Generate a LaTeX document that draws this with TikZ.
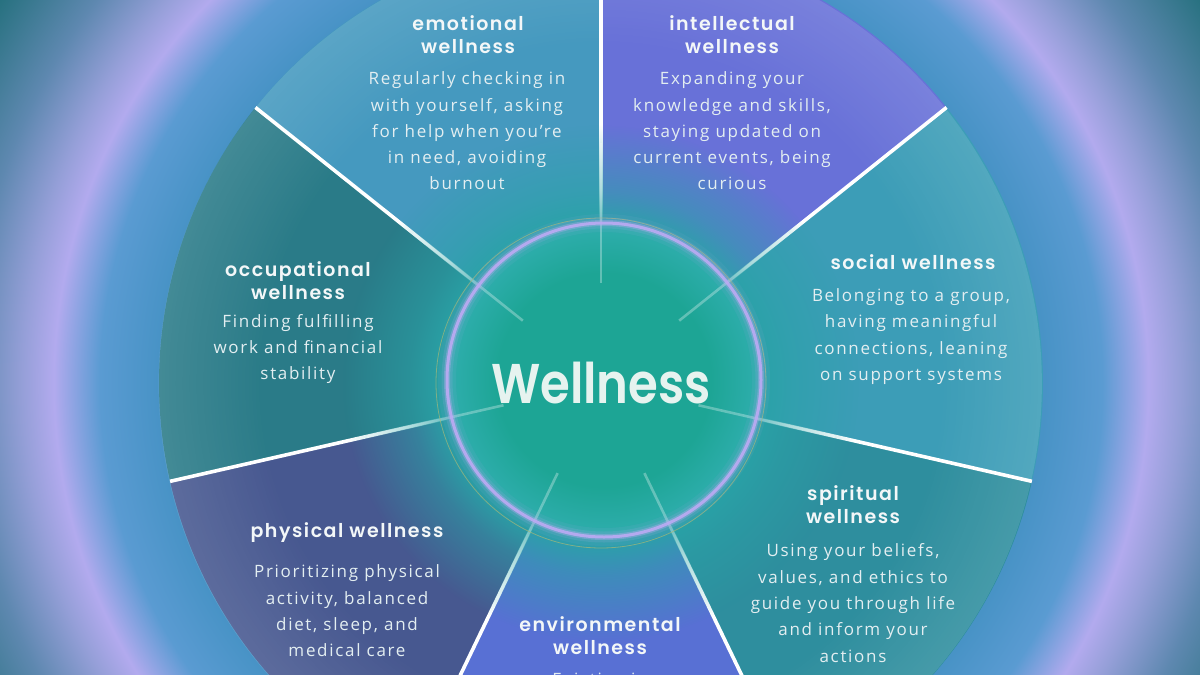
\documentclass[tikz,border=0pt]{standalone}
\usepackage{fontspec}
\usepackage{graphicx}
\usetikzlibrary{fadings}
\newfontfamily\headfont{Poppins SemiBold}[LetterSpace=8]
\newfontfamily\titlefont{Poppins SemiBold}
\newfontfamily\bodyfont{Open Sans}[LetterSpace=10]

\definecolor{bgblue}{HTML}{4893C6}
\definecolor{bgblueb}{HTML}{5A9BD2}
\definecolor{lav}{HTML}{B2AAEE}
\definecolor{lavb}{HTML}{959FD8}
\definecolor{bgmid}{HTML}{5E88B0}
\definecolor{bgcorner}{HTML}{226F7B}
\definecolor{intel}{HTML}{6871D8}
\definecolor{emo}{HTML}{4599BF}
\definecolor{occu}{HTML}{2A7B88}
\definecolor{phys}{HTML}{475890}
\definecolor{envi}{HTML}{5870D4}
\definecolor{spir}{HTML}{2E8E9E}
\definecolor{soci}{HTML}{3C9DB7}
\definecolor{halo}{HTML}{29A3A7}
\definecolor{core}{HTML}{1DA595}
\definecolor{corerim}{HTML}{2FAEAE}
\definecolor{ringcol}{HTML}{BCAAF3}
\definecolor{olivering}{HTML}{A3B77A}
\definecolor{headcol}{HTML}{F3F7F8}
\definecolor{bodycol}{HTML}{E3EEF1}
\definecolor{titlecol}{HTML}{E6F3EF}

\pgfdeclareradialshading{bgshade}{\pgfpointorigin}{%
  color(0bp)=(bgblue); color(15.4bp)=(bgblue); color(17.4bp)=(bgblueb);
  color(19bp)=(lav); color(20.1bp)=(lavb); color(22bp)=(bgmid);
  color(25bp)=(bgcorner); color(50bp)=(bgcorner)}
\pgfdeclareradialshading{coresh}{\pgfpointorigin}{%
  color(0bp)=(core); color(17bp)=(core); color(25bp)=(corerim); color(50bp)=(corerim)}
\pgfdeclareradialshading{glowsh}{\pgfpointorigin}{%
  color(0bp)=(pgftransparent!0); color(15bp)=(pgftransparent!0);
  color(18.5bp)=(pgftransparent!45); color(25bp)=(pgftransparent!100);
  color(50bp)=(pgftransparent!100)}
\pgfdeclarefading{glowfade}{\pgfuseshading{glowsh}}
\pgfdeclareradialshading{rimsh}{\pgfpointorigin}{%
  color(0bp)=(pgftransparent!100); color(19bp)=(pgftransparent!100);
  color(25bp)=(pgftransparent!88); color(50bp)=(pgftransparent!88)}
\pgfdeclarefading{rimfade}{\pgfuseshading{rimsh}}

\begin{document}
\begin{tikzpicture}[x=1pt,y=-1pt,
  head/.style={font=\headfont\fontsize{19}{23}\selectfont, text=headcol, align=center, inner sep=0pt},
  body/.style={font=\bodyfont\fontsize{17}{26.3}\selectfont, text=bodycol, align=center, inner sep=0pt},
  divider/.style={draw=white, line width=3.6pt},
  faintdiv/.style={draw=white, line width=2.6pt, opacity=0.3}]
\useasboundingbox (0,0) rectangle (1200,675);
\clip (0,0) rectangle (1200,675);
\coordinate (C) at (601,383);
\coordinate (R) at (604,380);
% background
\shade[shading=bgshade] ([shift={(-720,-720)}]C) rectangle ([shift={(720,720)}]C);
% sectors
\foreach \a/\b/\col in {38.571/90/intel, 90/141.429/emo, 141.429/192.857/occu,
    192.857/244.286/phys, 244.286/295.714/envi, 295.714/347.143/spir, 347.143/398.571/soci}
  \fill[\col] (C) -- ++(-\a:442) arc[start angle=-\a, end angle=-\b, radius=442] -- cycle;
\fill[white, path fading=rimfade] (C) circle (442);
% dividers
\foreach \a in {90,141.429,192.857,244.286,295.714,347.143,38.571}
  \draw[divider] ([shift={(-\a:100)}]C) -- ([shift={(-\a:442)}]C);
% halo and core
\fill[halo, path fading=glowfade] (C) circle (258);
\shade[shading=coresh] (R) circle (157);
\foreach \a in {90,141.429,192.857,244.286,295.714,347.143,38.571}
  \draw[faintdiv] ([shift={(-\a:100)}]C) -- ([shift={(-\a:240)}]C);
\draw[olivering, line width=0.8pt, opacity=0.7] (C) circle (165);
\foreach \w/\o in {18/0.07, 11/0.14, 6/0.35, 3/0.9}
  \draw[ringcol, line width=\w pt, opacity=\o] (R) circle (157);
% title
\node[font=\titlefont\fontsize{56}{60}\selectfont, text=titlecol, inner sep=0pt] (title) at (601,383) {\scalebox{0.86}[1]{Wellness}};
% labels
\node[head] (emoH) at (468,34.5) {emotional\\wellness};
\node[body] (emoB) at (467,131) {Regularly checking in\\with yourself, asking\\for help when you’re\\in need, avoiding\\burnout};
\node[head] (intH) at (732,34.5) {intellectual\\wellness};
\node[body] (intB) at (732,131) {Expanding your\\knowledge and skills,\\staying updated on\\current events, being\\curious};
\node[head] (occH) at (298,280.5) {occupational\\wellness};
\node[body] (occB) at (298,349) {Finding fulfilling\\work and financial\\stability};
\node[head] (socH) at (913,262) {social wellness};
\node[body] (socB) at (911,336.5) {Belonging to a group,\\having meaningful\\connections, leaning\\on support systems};
\node[head] (spiH) at (853,504.5) {spiritual\\wellness};
\node[body] (spiB) at (853,603) {Using your beliefs,\\values, and ethics to\\guide you through life\\and inform your\\actions};
\node[head] (phyH) at (347,533) {physical wellness};
\node[body] (phyB) at (347,611) {Prioritizing physical\\activity, balanced\\diet, sleep, and\\medical care};
\node[head] (envH) at (600,635.5) {environmental\\wellness};
\node[body] (envB) at (600,681) {Existing in};
\end{tikzpicture}
\end{document}
